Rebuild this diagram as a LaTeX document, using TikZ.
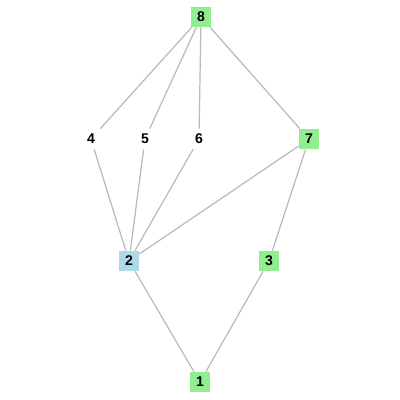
\documentclass[tikz,border=0pt]{standalone}
\usepackage{fontspec}
\setmainfont{Liberation Sans}
\usetikzlibrary{positioning}
\definecolor{lightgrn}{HTML}{90EE90}
\definecolor{lightblu}{HTML}{ADD8E6}
\tikzset{
  vx/.style={rectangle,minimum size=4mm,inner sep=0pt,font=\fontsize{8}{9}\selectfont\bfseries},
  vxg/.style={vx,fill=lightgrn},
  vxb/.style={vx,fill=lightblu},
  edg/.style={draw=black!27,line width=.7pt},
}
\begin{document}
\begin{tikzpicture}[x=0.02cm,y=-0.02cm]
\useasboundingbox (0,0) rectangle (400,400);
\node[vxg] (n8) at (201,17) {8};
\node[vx]  (n4) at (91,139) {4};
\node[vx]  (n5) at (145,139) {5};
\node[vx]  (n6) at (199,139) {6};
\node[vxg] (n7) at (309,139) {7};
\node[vxb] (n2) at (129,261) {2};
\node[vxg] (n3) at (269,261) {3};
\node[vxg] (n1) at (200,382) {1};
% cover relations, top to bottom
\draw[edg] (n8)--(n4) (n8)--(n5) (n8)--(n6) (n8)--(n7);
\draw[edg] (n4)--(n2) (n5)--(n2) (n6)--(n2) (n7)--(n2) (n7)--(n3);
\draw[edg] (n2)--(n1) (n3)--(n1);
\end{tikzpicture}
\end{document}
